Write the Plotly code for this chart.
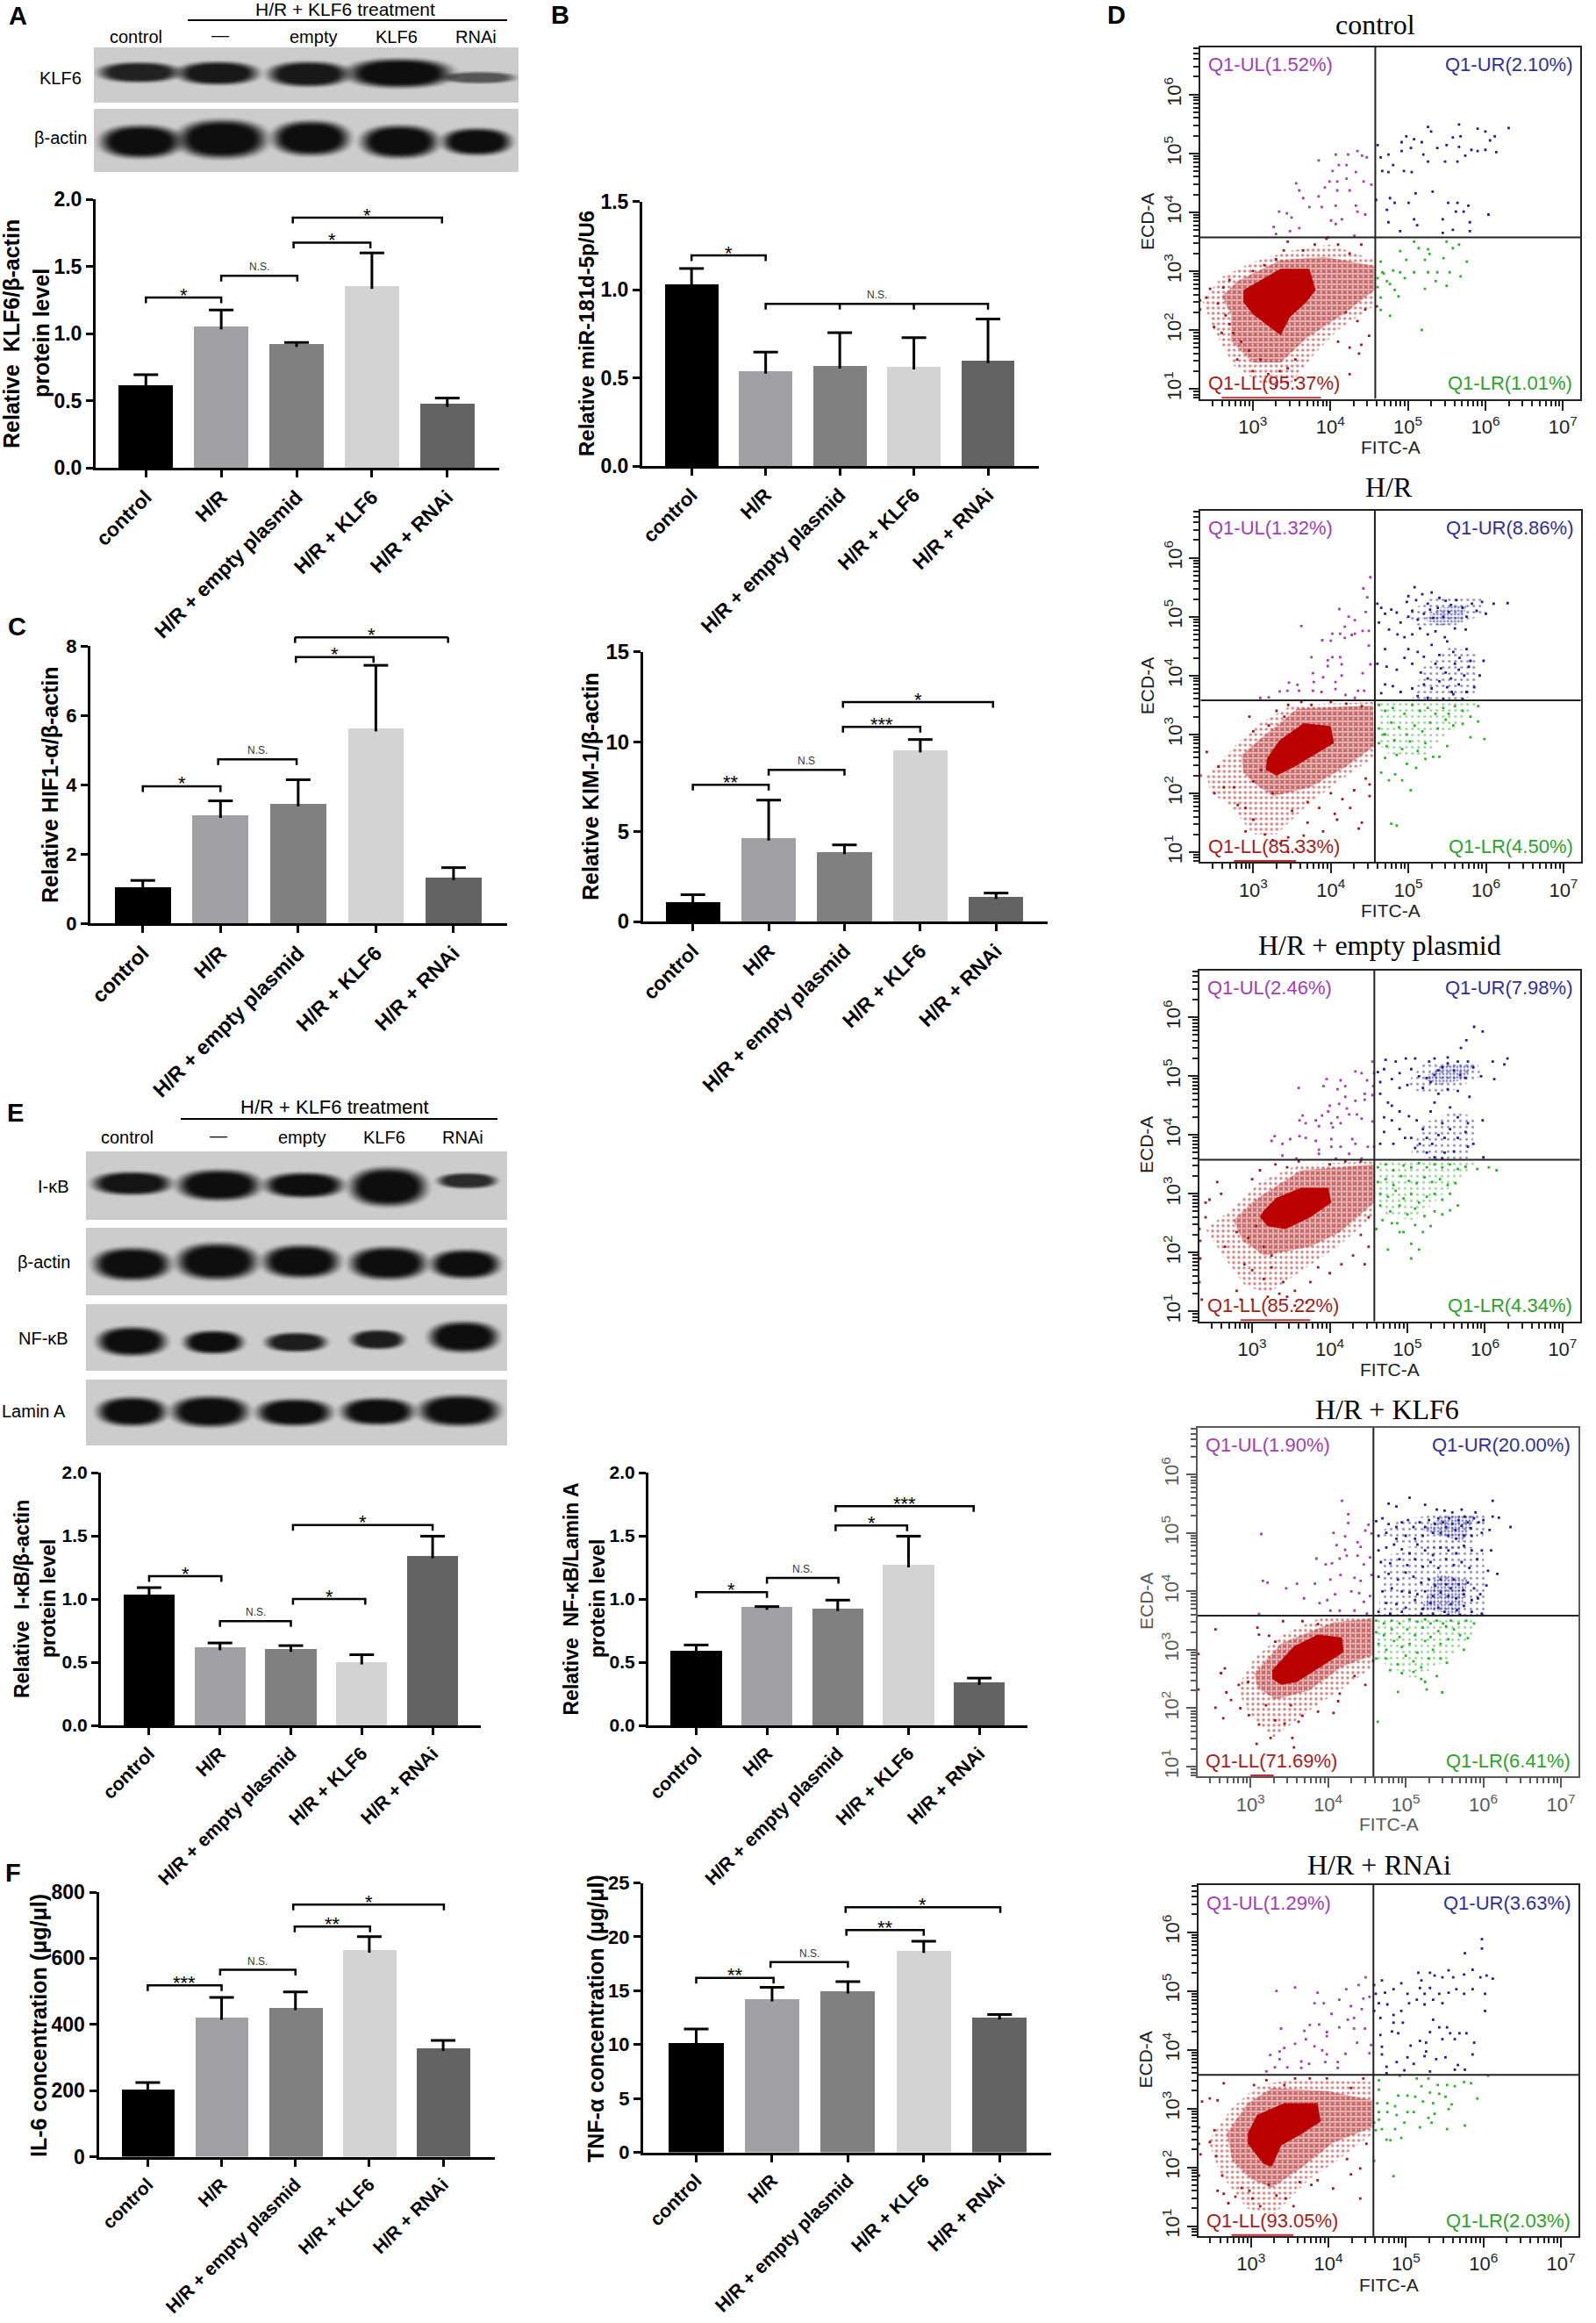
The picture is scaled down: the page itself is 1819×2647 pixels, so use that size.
import numpy as np
import plotly.graph_objects as go

W, H = 1819, 2647
SANS = "Liberation Sans"
SERIF = "Liberation Serif"

CATEGORIES = ["control", "H/R", "H/R + empty plasmid", "H/R + KLF6", "H/R + RNAi"]
BAR_COLORS = ["#000000", "#a0a0a5", "#808080", "#d3d3d3", "#636363"]

##### bar chart values, tops of the error bars, (from, to, height, label) brackets #####
A_VAL = [0.615, 1.05, 0.92, 1.352, 0.474]
A_TOP = [0.693, 1.175, 0.933, 1.6, 0.519]
A_TICKS = ["0.0", "0.5", "1.0", "1.5", "2.0"]
A_BR = [(0, 1, 1.268, "*"), (1, 2.01, 1.43, "N.S."), (1.96, 2.98, 1.676, "*"), (1.95, 3.93, 1.862, "*")]

B_VAL = [1.03, 0.539, 0.568, 0.562, 0.598]
B_TOP = [1.12, 0.646, 0.756, 0.728, 0.833]
B_TICKS = ["0.0", "0.5", "1.0", "1.5"]
B_BR = [(0, 1, 1.194, "*"), (1, 4, 0.92, "N.S.")]
B_INNER = [2, 3]

C1_VAL = [1.04, 3.115, 3.447, 5.61, 1.318]
C1_TOP = [1.235, 3.53, 4.14, 7.44, 1.604]
C1_TICKS = ["0", "2", "4", "6", "8"]
C1_BR = [(0, 1, 3.95, "*"), (0.97, 1.98, 4.73, "N.S."), (1.97, 2.97, 7.68, "*"), (1.96, 3.93, 8.25, "*")]

C2_VAL = [1.08, 4.65, 3.89, 9.55, 1.40]
C2_TOP = [1.49, 6.75, 4.26, 10.12, 1.58]
C2_TICKS = ["0", "5", "10", "15"]
C2_BR = [(0, 1, 7.6, "**"), (1, 2, 8.43, "N.S"), (1.98, 3, 10.83, "***"), (1.98, 3.96, 12.2, "*")]

E1_VAL = [1.032, 0.615, 0.603, 0.503, 1.343]
E1_TOP = [1.09, 0.652, 0.631, 0.559, 1.497]
E1_TICKS = ["0.0", "0.5", "1.0", "1.5", "2.0"]
E1_BR = [(0, 1.02, 1.18, "*"), (1, 2, 0.824, "N.S."), (2.03, 3.05, 1.0, "*"), (2.03, 4, 1.585, "*")]

E2_VAL = [0.592, 0.935, 0.926, 1.271, 0.341]
E2_TOP = [0.636, 0.94, 0.991, 1.497, 0.374]
E2_TICKS = ["0.0", "0.5", "1.0", "1.5", "2.0"]
E2_BR = [(0, 1, 1.053, "*"), (1, 2.01, 1.167, "N.S."), (1.97, 2.98, 1.582, "*"), (1.97, 3.92, 1.735, "***")]

F1_VAL = [204.5, 422, 451, 625, 328]
F1_TOP = [224.5, 482, 498, 665.5, 352]
F1_TICKS = ["0", "200", "400", "600", "800"]
F1_BR = [(0, 1, 518, "***"), (0.98, 2, 565, "N.S."), (1.99, 3.01, 696, "**"), (1.97, 4.01, 762, "*")]

F2_VAL = [10.21, 14.26, 14.98, 18.75, 12.56]
F2_TOP = [11.44, 15.32, 15.85, 19.6, 12.78]
F2_TICKS = ["0", "5", "10", "15", "20", "25"]
F2_BR = [(0, 1.02, 16.18, "**"), (0.98, 2, 17.66, "N.S."), (1.98, 3, 20.62, "**"), (1.97, 4.01, 22.74, "*")]

##### blot bands: centre x, half width, centre y, half height, darkness #####
BLOT_A1 = [(158, 42, 82, 10.5, .90), (248, 42, 83, 12, .95), (351, 42, 84, 13, .95), (455, 54, 83, 15, 1), (546, 38, 88, 6, .62)]
BLOT_A2 = [(160, 42, 161, 17, 1), (253, 46, 158, 20, 1), (354, 40, 157, 18, 1), (455, 40, 161, 17, 1), (543, 36, 161, 14, 1)]
BLOT_E1 = [(150, 41, 1348, 12, .97), (249, 43, 1350, 16, 1), (346, 41, 1350, 13, 1), (442, 40, 1352, 20, 1), (532, 31, 1345, 8, .85)]
BLOT_E2 = [(150, 40, 1440, 17, 1), (247, 42, 1437, 19, 1), (343, 40, 1437, 17, 1), (442, 40, 1439, 17, 1), (530, 36, 1440, 15, 1)]
BLOT_E3 = [(150, 36, 1528, 15, 1), (243, 31, 1529, 12, 1), (337, 32, 1529, 10, .92), (430, 28, 1526, 10, .92), (528, 36, 1523, 16, 1)]
BLOT_E4 = [(150, 36, 1608, 15, 1), (239, 40, 1608, 16, 1), (335, 39, 1609, 14, 1), (430, 38, 1608, 14, 1), (523, 42, 1607, 16, 1)]

##### flow cytometry events, log10 x 100 #####
CTRL_UL = [(385,488),(407,498),(423,498),(435,504),(447,493),(441,496),(421,480),(411,480),(403,470),(399,452),(409,452),(409,437),(393,442),(356,449),(360,437),(365,424),(385,427),(389,409),(373,409),(407,411),(433,411),(435,401),(445,396),(415,388),(401,386),(407,380),(334,401),(344,398),(350,391),(327,375),(360,373),(348,368),(330,363),(397,357),(431,360),(421,457),(433,468),(443,452),(453,447),(425,437)]
CTRL_UR = [(461,514),(465,493),(475,498),(467,470),(475,468),(481,480),(492,519),(498,529),(508,524),(492,504),(504,509),(518,519),(526,545),(530,537),(520,498),(526,486),(538,509),(550,514),(548,486),(558,527),(566,549),(566,511),(574,496),(568,529),(582,506),(590,542),(590,504),(600,537),(600,506),(612,529),(606,522),(614,502),(630,543),(564,486),(495,470),(505,468),(459,421),(477,424),(483,416),(501,416),(510,432),(532,435),(552,416),(564,416),(578,411),(562,401),(572,401),(604,396),(473,404),(508,388),(475,383),(512,378),(545,388),(580,383),(545,365),(558,370),(490,368),(580,368)]
CTRL_LR = [(465,316),(490,334),(508,350),(514,339),(526,337),(522,319),(528,329),(550,350),(558,339),(566,345),(576,316),(546,322),(498,319),(467,298),(469,296),(481,301),(490,298),(496,288),(508,298),(526,298),(538,298),(554,298),(568,291),(536,283),(550,275),(522,270),(488,257),(465,255),(461,273),(477,278),(465,234),(477,224),(518,200),(461,288),(473,283),(483,268)]
CTRL_LL = [(232,250),(232,235),(240,255),(245,270),(262,272),(270,285),(255,245),(265,225),(270,210),(250,205),(260,195),(275,195),(285,180),(295,165),(280,150),(300,130),(310,150),(320,125),(335,130),(345,135),(355,150),(330,105),(345,110),(355,115),(410,180),(425,170),(440,175),(437,160),(425,125),(450,190),(435,215),(420,230),(445,235),(460,240),(300,300),(315,310),(330,320),(340,335),(365,335),(380,345),(395,355),(410,345),(425,330),(440,345),(345,350)]
CTRL_CORE = [(2.88,2.68),(3.08,2.83),(3.36,3.04),(3.73,3.04),(3.81,2.68),(3.69,2.47),(3.48,2.22),(3.36,1.91),(3.2,2.07),(3.0,2.27),(2.88,2.47)]
CTRL_HALO = [(2.6,2.57),(2.8,2.83),(3.36,3.19),(3.93,3.24),(4.57,3.09),(4.57,2.68),(4.17,2.27),(3.69,1.86),(3.36,1.45),(3.0,1.45),(2.72,1.81),(2.72,2.27)]
CTRL_OUTER = [(2.35,2.5),(2.6,2.9),(3.0,3.15),(3.5,3.35),(4.0,3.45),(4.55,3.2),(4.55,2.4),(4.1,2.0),(3.8,1.6),(3.5,1.1),(3.1,1.1),(2.75,1.4),(2.5,2.0)]

HR_UL = [(451,567),(442,548),(447,533),(411,513),(445,508),(423,500),(431,494),(362,484),(418,483),(431,471),(427,469),(402,471),(412,471),(389,460),(400,459),(418,464),(449,476),(441,476),(449,451),(375,431),(396,426),(402,431),(412,431),(396,416),(414,419),(451,419),(377,404),(414,400),(441,404),(346,388),(378,389),(390,397),(406,389),(357,384),(359,374),(334,373),(344,374),(377,374),(388,372),(406,377),(435,374),(443,374),(309,362),(320,363),(419,367),(431,362)]
HR_UR = [(460,522),(465,515),(470,505),(478,512),(485,507),(462,490),(475,478),(490,490),(500,500),(498,525),(510,528),(505,510),(512,495),(520,505),(528,512),(532,498),(525,522),(538,515),(545,500),(552,508),(555,520),(562,528),(570,515),(575,500),(582,522),(588,510),(595,525),(600,505),(610,522),(628,523),(548,527),(540,532),(530,541),(518,538),(508,550),(500,535),(486,470),(495,465),(505,470),(515,480),(525,470),(535,475),(547,465),(560,480),(574,478),(500,445),(512,440),(520,432),(530,452),(540,435),(550,458),(558,440),(566,430),(575,445),(580,425),(597,425),(470,445),(460,420),(472,415),(485,410),(495,430),(505,420),(516,405),(525,395),(535,420),(542,412),(548,405),(555,395),(560,420),(565,410),(572,400),(578,415),(592,400),(520,385),(530,378),(540,390),(550,380),(556,372),(565,385),(575,372),(585,380),(470,385),(480,382),(465,370),(490,372),(505,378),(512,365),(525,362),(545,360),(558,368),(570,360)]
HR_LR = [(462,350),(470,340),(480,345),(495,335),(505,350),(515,340),(525,345),(535,335),(545,345),(552,335),(560,348),(570,340),(580,330),(590,348),(590,322),(462,310),(470,300),(478,320),(488,312),(498,300),(508,315),(518,305),(528,320),(538,310),(548,325),(558,315),(570,318),(462,285),(472,280),(482,290),(492,275),(502,288),(512,272),(522,285),(532,262),(540,262),(550,280),(580,295),(598,292),(470,260),(485,265),(498,250),(510,243),(465,235),(483,232),(492,222),(503,205),(475,222),(478,148),(485,145),(468,300),(522,258)]
HR_LL = [(232,230),(240,270),(250,200),(255,245),(262,210),(275,210),(280,180),(290,175),(300,220),(310,240),(325,200),(290,135),(300,155),(315,130),(325,120),(335,115),(345,125),(355,105),(365,128),(370,150),(345,100),(390,135),(408,155),(405,165),(425,175),(436,140),(440,150),(450,195),(445,225),(430,205),(415,190),(330,340),(345,350),(362,355),(400,355),(420,352),(440,348),(295,330),(300,305),(320,315),(340,330),(375,350),(450,215),(400,200),(385,175),(370,185),(350,170)]
HR_CORE = [(3.18,2.6),(3.34,2.9),(3.65,3.19),(4.0,3.14),(4.04,2.85),(3.81,2.67),(3.53,2.45),(3.3,2.3),(3.16,2.4)]
HR_HALO = [(2.85,2.65),(3.07,2.9),(3.57,3.44),(4.54,3.49),(4.56,2.8),(4.19,2.45),(3.73,2.1),(3.26,1.95),(3.03,2.15),(2.87,2.35)]
HR_OUTER = [(2.4,2.3),(2.8,2.85),(3.1,3.2),(3.5,3.5),(4.55,3.55),(4.55,2.6),(4.1,2.2),(3.7,1.8),(3.3,1.3),(3.0,1.3),(2.7,1.8),(2.45,2.0)]
HR_UR_TOP = [(4.95,5.0),(5.25,5.3),(5.95,5.35),(6.0,5.05),(5.6,4.85),(5.1,4.85)]
HR_UR_LOW = [(5.05,3.6),(5.2,4.15),(5.55,4.5),(5.9,4.35),(5.85,3.65),(5.5,3.55)]
HR_UR_DENSE = [(5.2,4.95),(5.4,5.15),(5.75,5.2),(5.7,4.9),(5.4,4.85)]
HR_LR_CLOUD = [(4.6,3.55),(5.9,3.55),(5.6,3.1),(5.2,2.6),(4.8,2.6),(4.6,2.85)]

EMP_UL = [(455,525),(433,508),(441,505),(457,505),(448,493),(456,483),(396,495),(392,483),(360,480),(414,493),(410,478),(420,483),(445,470),(455,468),(420,465),(433,458),(445,460),(400,450),(412,453),(422,445),(398,440),(410,430),(425,435),(435,435),(441,428),(455,423),(365,433),(361,425),(369,420),(382,425),(390,433),(386,415),(402,420),(414,420),(404,413),(329,398),(325,390),(339,385),(361,398),(369,395),(349,393),(382,390),(402,393),(402,380),(386,375),(429,393),(433,385),(414,380),(449,380),(457,380),(339,365),(357,360),(386,368),(408,360),(425,368),(441,360)]
EMP_UR = [(462,507),(470,512),(480,495),(490,505),(472,528),(485,525),(498,530),(510,530),(505,512),(515,500),(525,497),(535,502),(540,510),(530,490),(520,480),(500,485),(490,480),(465,490),(545,515),(552,522),(560,510),(568,502),(575,497),(585,515),(578,525),(565,525),(552,532),(535,530),(528,525),(595,500),(610,525),(625,520),(629,530),(576,561),(569,548),(586,584),(597,576),(612,495),(552,478),(540,470),(565,475),(580,465),(465,470),(475,455),(480,450),(490,440),(470,430),(480,425),(502,432),(512,425),(520,410),(530,440),(535,455),(545,420),(555,447),(565,430),(578,420),(597,425),(470,405),(490,410),(497,395),(505,395),(516,385),(525,395),(532,385),(540,400),(548,395),(555,410),(565,395),(575,405),(585,385),(465,385),(482,385),(510,378),(525,370),(535,362),(548,370),(560,372),(578,380),(598,362),(545,360)]
EMP_LR = [(462,345),(472,350),(482,340),(495,348),(505,345),(515,352),(525,345),(535,350),(545,345),(555,350),(565,342),(575,346),(590,342),(605,345),(615,340),(462,320),(472,325),(482,315),(492,330),(502,322),(512,318),(522,328),(532,320),(542,325),(552,315),(562,318),(465,300),(475,295),(485,305),(495,292),(505,300),(515,285),(525,295),(535,300),(545,290),(555,300),(565,280),(465,280),(478,270),(490,280),(500,265),(510,275),(522,262),(535,270),(545,265),(555,272),(468,255),(480,250),(490,235),(495,235),(510,247),(520,235),(530,245),(505,215),(515,205),(460,240),(475,205),(505,190),(487,250)]
EMP_LL = [(240,260),(232,240),(233,220),(233,190),(232,150),(235,120),(245,290),(255,320),(265,210),(280,235),(295,225),(305,245),(315,210),(325,195),(290,180),(300,170),(315,155),(325,175),(340,150),(355,135),(375,150),(385,175),(400,165),(415,180),(430,195),(440,230),(445,180),(285,120),(300,120),(320,125),(335,130),(345,125),(355,110),(370,115),(280,135),(300,325),(310,340),(330,350),(345,345),(360,355),(420,355),(440,355),(400,350),(450,210),(450,260),(240,285),(260,300)]
EMP_CORE = [(3.14,2.7),(3.31,2.93),(3.63,3.1),(3.98,3.1),(4.02,2.85),(3.75,2.6),(3.43,2.4),(3.2,2.45),(3.1,2.6)]
EMP_HALO = [(2.76,2.55),(3.04,2.9),(3.63,3.4),(4.57,3.5),(4.57,2.85),(4.14,2.35),(3.75,2.1),(3.16,1.95),(2.88,2.2)]
EMP_OUTER = [(2.4,2.4),(2.75,2.75),(3.1,3.2),(3.6,3.5),(4.55,3.55),(4.55,2.6),(4.1,2.1),(3.7,1.75),(3.2,1.3),(2.9,1.45),(2.65,1.9)]
EMP_UR_TOP = [(5.0,4.9),(5.2,5.2),(5.9,5.25),(5.95,5.0),(5.5,4.7),(5.1,4.75)]
EMP_UR_LOW = [(5.05,3.7),(5.2,4.2),(5.6,4.4),(5.9,4.3),(5.8,3.6),(5.4,3.55)]
EMP_UR_DENSE = [(5.2,4.95),(5.45,5.2),(5.85,5.2),(5.75,4.95),(5.4,4.85)]
EMP_LR_CLOUD = [(4.6,3.55),(5.9,3.55),(5.5,3.05),(5.1,2.55),(4.75,2.6),(4.6,2.85)]

KLF_UL = [(418,555),(426,532),(426,517),(452,514),(448,504),(456,499),(314,498),(407,500),(422,494),(438,484),(442,476),(411,479),(422,471),(424,461),(438,461),(454,458),(385,456),(397,446),(405,448),(415,456),(446,446),(416,428),(434,423),(442,418),(456,428),(383,413),(403,420),(316,418),(322,415),(360,413),(346,405),(409,395),(430,400),(440,397),(369,388),(389,380),(399,385),(446,382),(454,392),(403,367),(415,367),(434,367),(450,362),(311,361)]
KLF_UR = [(462,520),(470,525),(478,515),(488,510),(495,518),(503,522),(510,510),(518,518),(525,510),(530,522),(538,515),(542,525),(548,518),(552,510),(556,525),(560,515),(564,505),(568,522),(572,512),(576,528),(580,518),(584,508),(588,525),(594,518),(600,522),(612,528),(620,526),(635,510),(608,505),(598,500),(585,495),(575,495),(565,490),(555,495),(545,500),(535,500),(522,495),(512,490),(500,495),(488,490),(475,500),(465,495),(560,535),(550,538),(540,540),(525,548),(505,560),(478,550),(488,545),(590,535),(572,540),(612,555),(465,470),(475,475),(485,480),(495,472),(505,465),(515,480),(525,470),(535,462),(545,475),(555,470),(565,465),(575,478),(585,470),(598,470),(610,470),(468,450),(480,448),(492,455),(502,445),(512,455),(522,442),(532,450),(542,440),(552,455),(562,445),(572,450),(582,440),(592,455),(606,435),(618,430),(465,425),(478,430),(490,420),(500,432),(510,425),(520,415),(530,420),(538,410),(545,420),(552,412),(558,405),(562,420),(568,412),(574,402),(580,415),(588,405),(596,395),(604,410),(470,400),(482,405),(495,400),(505,398),(515,395),(525,400),(535,392),(545,398),(555,392),(565,388),(575,395),(585,385),(593,388),(475,380),(488,378),(500,372),(512,385),(522,370),(532,380),(542,372),(550,365),(558,378),(566,368),(575,375),(585,365),(598,362),(465,365),(480,362),(495,365),(520,362),(535,362),(555,360),(570,360)]
KLF_LR = [(462,350),(472,345),(482,350),(492,345),(505,352),(515,348),(525,352),(532,345),(540,350),(548,345),(558,350),(568,345),(578,350),(588,345),(462,330),(472,325),(482,335),(492,322),(502,335),(512,325),(522,338),(532,322),(542,332),(552,340),(562,335),(570,325),(580,320),(465,310),(475,300),(485,315),(495,305),(505,310),(515,295),(525,315),(535,300),(545,310),(555,318),(575,300),(462,285),(475,285),(490,275),(500,290),(510,280),(520,270),(530,285),(545,285),(553,278),(480,265),(495,260),(510,262),(520,250),(525,245),(527,232),(490,228),(540,255),(547,227),(464,177)]
KLF_LL = [(255,335),(262,260),(267,268),(269,227),(275,214),(255,201),(265,183),(287,200),(298,188),(311,172),(326,149),(308,139),(354,149),(356,133),(332,179),(344,174),(362,177),(367,187),(407,192),(413,212),(387,194),(352,205),(320,205),(297,245),(285,240),(309,338),(311,326),(324,324),(332,314),(342,349),(367,349),(387,344),(415,225),(448,240),(434,255),(458,281),(233,293),(233,232)]
KLF_CORE = [(3.28,2.65),(3.56,3.06),(3.87,3.26),(4.18,3.21),(4.2,2.96),(3.91,2.71),(3.6,2.45),(3.4,2.4),(3.28,2.5)]
KLF_HALO = [(3.05,2.6),(3.4,3.11),(4.07,3.47),(4.58,3.54),(4.58,2.91),(4.18,2.71),(3.75,2.3),(3.32,2.15),(3.09,2.35)]
KLF_OUTER = [(2.85,2.4),(3.05,2.85),(3.4,3.25),(3.9,3.55),(4.57,3.57),(4.57,2.7),(4.2,2.35),(3.8,2.0),(3.3,1.5),(3.05,1.8),(2.9,2.1)]
KLF_UR_TOP = [(4.65,5.0),(4.9,5.2),(5.5,5.35),(6.05,5.3),(6.0,4.95),(5.7,4.7),(5.0,4.75)]
KLF_UR_MID = [(4.65,3.6),(4.7,4.6),(5.6,4.85),(6.0,4.7),(6.05,3.6)]
KLF_UR_DENSE = [(5.2,5.05),(5.5,5.3),(5.9,5.3),(5.75,4.85),(5.45,4.95)]
KLF_UR_DENSE2 = [(5.2,3.7),(5.4,4.3),(5.8,4.2),(5.7,3.6)]
KLF_LR_CLOUD = [(4.6,3.55),(5.9,3.55),(5.85,3.2),(5.5,2.8),(5.1,2.5),(4.75,2.75),(4.6,2.85)]

RNA_UL = [(333,500),(357,506),(386,497),(382,479),(423,503),(439,510),(448,523),(414,485),(429,474),(445,487),(453,490),(443,469),(394,479),(404,461),(425,451),(433,454),(388,443),(376,442),(339,436),(369,432),(398,430),(414,438),(433,436),(447,436),(371,418),(382,406),(398,423),(437,412),(455,408),(357,410),(343,403),(337,397),(325,391),(392,399),(398,392),(422,393),(453,394),(337,384),(365,380),(375,376),(396,379),(412,379),(331,370),(347,370),(320,363),(365,369),(412,369)]
RNA_UR = [(459,510),(469,518),(461,495),(473,497),(484,503),(494,513),(502,495),(516,531),(520,518),(531,531),(537,526),(547,523),(555,535),(561,523),(575,528),(586,536),(596,523),(604,526),(612,521),(576,564),(598,588),(598,572),(524,495),(518,505),(531,505),(543,495),(547,479),(555,497),(565,503),(575,495),(586,503),(602,495),(602,466),(465,479),(476,477),(484,459),(494,466),(504,479),(514,485),(524,477),(535,485),(459,466),(467,454),(484,446),(496,446),(535,451),(543,438),(553,438),(557,428),(569,428),(578,428),(467,425),(482,431),(490,428),(531,430),(547,418),(563,418),(588,412),(469,405),(506,407),(518,415),(526,412),(526,397),(469,392),(502,387),(524,389),(551,387),(586,392),(488,379),(510,376),(539,384),(567,374),(475,371),(498,365),(531,363),(563,366),(576,366),(475,360)]
RNA_LR = [(465,348),(492,356),(514,351),(520,338),(529,351),(541,340),(553,340),(563,338),(575,345),(584,343),(606,356),(465,332),(490,322),(502,322),(512,320),(522,312),(531,327),(535,309),(543,325),(551,320),(559,307),(592,317),(463,309),(476,309),(486,304),(465,294),(476,294),(502,294),(510,294),(537,291),(555,299),(465,281),(459,276),(488,289),(498,276),(529,284),(533,276),(553,265),(576,271),(461,263),(469,265),(486,265),(518,268),(475,247),(480,246),(494,250),(459,211),(484,185)]
RNA_LL = [(237,312),(247,317),(265,343),(257,314),(253,263),(247,243),(233,268),(233,240),(235,222),(233,186),(255,219),(257,160),(265,155),(271,139),(280,150),(263,186),(288,165),(298,160),(302,147),(312,134),(323,170),(333,152),(345,147),(355,134),(363,175),(378,170),(406,164),(441,147),(386,178),(429,188),(441,198),(424,214),(449,240),(304,340),(320,348),(343,340),(357,351),(376,351),(398,351),(429,335),(445,351)]
RNA_CORE = [(2.96,2.58),(3.08,2.89),(3.43,3.09),(3.86,3.09),(3.9,2.78),(3.67,2.58),(3.39,2.37),(3.27,2.01),(3.16,2.06),(2.96,2.4)]
RNA_HALO = [(2.69,2.58),(2.96,3.09),(3.27,3.35),(3.98,3.3),(4.57,3.14),(4.57,2.68),(4.06,2.42),(3.67,2.01),(3.27,1.65),(3.0,1.8),(2.76,2.11)]
RNA_OUTER = [(2.45,2.45),(2.75,3.0),(3.1,3.4),(3.6,3.5),(4.55,3.45),(4.55,2.55),(4.1,2.1),(3.75,1.8),(3.3,1.2),(2.95,1.3),(2.6,1.9)]

FLOW_TITLES = ["control", "H/R", "H/R + empty plasmid", "H/R + KLF6", "H/R + RNAi"]
UL_PCT = ["1.52", "1.32", "2.46", "1.90", "1.29"]
UR_PCT = ["2.10", "8.86", "7.98", "20.00", "3.63"]
LL_PCT = ["95.37", "85.33", "85.22", "71.69", "93.05"]
LR_PCT = ["1.01", "4.50", "4.34", "6.41", "2.03"]
GATE_X = [4.58, 4.568, 4.574, 4.584, 4.58]
GATE_Y = [3.574, 3.577, 3.58, 3.584, 3.573]
PILE_UP = [(2.6, 3.88), (2.75, 3.55), (2.85, 3.75), (3.0, 3.3), (2.75, 3.55)]

fig = go.Figure()
layout = {}
notes = []
rules = []
n_axes = 0


def fx(x):
    return x / W


def fy(y):
    return 1 - y / H


def note(x, y, text, size, weight=400, color="#000000", family=SANS, angle=0, anchor="center"):
    notes.append(dict(x=fx(x), y=fy(y), xref="paper", yref="paper", text=text, showarrow=False,
                      textangle=angle, xanchor=anchor, yanchor="middle",
                      font=dict(family=family, size=size, color=color, weight=weight)))


def new_axes(box):
    global n_axes
    n_axes += 1
    l, r, t, b = box
    layout[f"xaxis{n_axes}"] = dict(domain=[fx(l), fx(r)], anchor=f"y{n_axes}", automargin=False)
    layout[f"yaxis{n_axes}"] = dict(domain=[fy(b), fy(t)], anchor=f"x{n_axes}", automargin=False)
    return n_axes


def blot(box, bands):
    n = new_axes(box)
    l, r, t, b = box
    xs = np.arange(l, r + 2, 2.0)
    ys = np.arange(t, b + 2, 2.0)
    gx, gy = np.meshgrid(xs, ys)
    z = np.full(gx.shape, 0.80)
    for cx, hw, cy, hh, dark in bands:
        d = (np.abs((gx - cx) / hw) ** 2.3 + np.abs((gy - cy) / hh) ** 2.3) ** (1 / 2.3)
        m = np.clip((1.32 - d) / 0.6, 0, 1)
        m = m * m * (3 - 2 * m)
        z = z * (1 - 0.93 * dark * m)
    fig.add_trace(go.Heatmap(x=xs, y=ys, z=z, zmin=0, zmax=1, zsmooth="best", showscale=False, hoverinfo="skip",
                             colorscale=[[0, "#000000"], [1, "#ffffff"]], xaxis=f"x{n}", yaxis=f"y{n}"))
    layout[f"xaxis{n}"].update(visible=False, range=[l, r])
    layout[f"yaxis{n}"].update(visible=False, range=[b, t])


def bar_chart(box, xr, vals, tops, ticks, brackets, tick_size, cat_size, inner=()):
    n = new_axes(box)
    l, r, t, b = box
    ymax = float(ticks[-1])
    drop = ymax / (b - t) * 6.5
    cap = 14 * (xr[1] - xr[0]) / (r - l)
    stem = ymax / (b - t) * 3
    fig.add_trace(go.Bar(x=list(range(5)), y=vals, width=0.72, marker=dict(color=BAR_COLORS, line=dict(width=0)),
                         xaxis=f"x{n}", yaxis=f"y{n}"))
    # error bars as plain lines, only the upper whisker is drawn in the figure
    for i, (v, top) in enumerate(zip(vals, tops)):
        fig.add_trace(go.Scatter(x=[i, i, None, i - cap, i + cap], y=[v - stem, top, None, top, top], mode="lines",
                                 line=dict(color="#000000", width=3), xaxis=f"x{n}", yaxis=f"y{n}"))
    for x0, x1, y, lab in brackets:
        small = lab.startswith("N")
        star = dict(x=(x0 + x1) / 2, xref=f"x{n}", text=lab, showarrow=False, yanchor="middle", yshift=10 if small else 3,
                    font=dict(family=SANS, size=12 if small else 22, color="#333333" if small else "#000000"))
        if y > ymax:
            # above the top of the axis: plotly drops it on the y axis, so place it on the page
            page_y = fy(b - y / ymax * (b - t))
            page_low = fy(b - (y - drop) / ymax * (b - t))
            pen = dict(color="#000000", width=2.5)
            rules.append(dict(type="line", xref=f"x{n}", yref="paper", x0=x0, x1=x1, y0=page_y, y1=page_y, line=pen))
            rules.append(dict(type="line", xref=f"x{n}", yref="paper", x0=x0, x1=x0, y0=page_low, y1=page_y, line=pen))
            rules.append(dict(type="line", xref=f"x{n}", yref="paper", x0=x1, x1=x1, y0=page_low, y1=page_y, line=pen))
            notes.append(dict(y=page_y, yref="paper", **star))
        else:
            fig.add_trace(go.Scatter(x=[x0, x0, x1, x1], y=[y - drop, y, y, y - drop], mode="lines", cliponaxis=False,
                                     line=dict(color="#000000", width=2.5), xaxis=f"x{n}", yaxis=f"y{n}"))
            notes.append(dict(y=y, yref=f"y{n}", **star))
    for x in inner:
        y = brackets[-1][2]
        fig.add_trace(go.Scatter(x=[x, x], y=[y - drop, y], mode="lines", cliponaxis=False,
                                 line=dict(color="#000000", width=2.5), xaxis=f"x{n}", yaxis=f"y{n}"))
    axis_style = dict(showgrid=False, zeroline=False, showline=True, linecolor="#000000", linewidth=3,
                      ticks="outside", ticklen=8, tickwidth=3, tickcolor="#000000")
    layout[f"xaxis{n}"].update(range=xr, tickmode="array", tickvals=list(range(5)), ticktext=CATEGORIES, tickangle=-45,
                               tickfont=dict(family=SANS, size=cat_size, color="#000000", weight=700), **axis_style)
    layout[f"yaxis{n}"].update(range=[0, ymax], tickmode="array", tickvals=[float(v) for v in ticks], ticktext=ticks,
                               tickfont=dict(family=SANS, size=tick_size, color="#000000", weight=700), **axis_style)


def dots(n, pts, color):
    fig.add_trace(go.Scatter(x=[10 ** (p[0] / 100) for p in pts], y=[10 ** (p[1] / 100) for p in pts], mode="markers",
                             marker=dict(symbol="square", size=2.8, color=color, line=dict(width=0)),
                             xaxis=f"x{n}", yaxis=f"y{n}"))


def blob(n, pts, color, dot_size=None, solidity=None):
    xs = [10 ** p[0] for p in pts] + [10 ** pts[0][0]]
    ys = [10 ** p[1] for p in pts] + [10 ** pts[0][1]]
    kw = dict(fillcolor=color)
    if dot_size:
        kw = dict(fillcolor="rgba(0,0,0,0)",
                  fillpattern=dict(shape=".", size=dot_size, solidity=solidity, fgcolor=color, bgcolor="rgba(0,0,0,0)"))
    fig.add_trace(go.Scatter(x=xs, y=ys, mode="lines", fill="toself", line=dict(width=0), xaxis=f"x{n}", yaxis=f"y{n}", **kw))


def flow_panel(i, box, title_pos, fitc_pos, ecd_pos, ul, ur, lr, ll, core, halo, outer, ur_clouds, ur_dense, lr_cloud, ink):
    n = new_axes(box)
    l, r, t, b = box
    blob(n, outer, "#a00c0c", 6, 0.28)
    blob(n, halo, "#a80404", 3, 0.72)
    for cloud in ur_clouds:
        blob(n, cloud, "#20208c", 7, 0.16)
    for cloud in ur_dense:
        blob(n, cloud, "#10108c", 4, 0.42)
    if lr_cloud:
        blob(n, lr_cloud, "#30b030", 7, 0.16)
    dots(n, ll, "#a01818")
    dots(n, ul, "#a040b0")
    dots(n, ur, "#20208c")
    dots(n, lr, "#30b030")
    blob(n, core, "#bb0000")
    fig.add_trace(go.Scatter(x=[10 ** PILE_UP[i][0], 10 ** PILE_UP[i][1]], y=[10 ** 0.85, 10 ** 0.85], mode="lines",
                             line=dict(color="#c03030", width=2), xaxis=f"x{n}", yaxis=f"y{n}"))
    gate = dict(color="#222222", width=2)
    fig.add_trace(go.Scatter(x=[10 ** GATE_X[i]] * 2, y=[10 ** 0.83, 10 ** 6.8], mode="lines", line=gate,
                             xaxis=f"x{n}", yaxis=f"y{n}"))
    fig.add_trace(go.Scatter(x=[10 ** 2.32, 10 ** 7.225], y=[10 ** GATE_Y[i]] * 2, mode="lines", line=gate,
                             xaxis=f"x{n}", yaxis=f"y{n}"))
    minor_vals = [m * 10 ** k for k in range(0, 8) for m in range(2, 10)]
    axis_style = dict(type="log", showgrid=False, zeroline=False, showline=True, mirror=True, linecolor=ink, linewidth=2,
                      ticks="outside", ticklen=11, tickwidth=2, tickcolor=ink,
                      minor=dict(ticks="outside", ticklen=6, tickwidth=1.5, tickcolor=ink, tickmode="array",
                                 tickvals=minor_vals, showgrid=False))
    layout[f"xaxis{n}"].update(range=[2.32, 7.225], tickmode="array", tickvals=[10 ** k for k in range(3, 8)],
                               ticktext=[f"10<sup>{k}</sup>" for k in range(3, 8)],
                               tickfont=dict(family=SANS, size=22, color=ink), **axis_style)
    layout[f"yaxis{n}"].update(range=[0.83, 6.8], tickmode="array", tickvals=[10 ** k for k in range(1, 7)], tickangle=-90,
                               ticktext=[f"10<sup>{k}</sup>" for k in range(1, 7)],
                               tickfont=dict(family=SANS, size=22, color=ink), **axis_style)
    note(title_pos[0], title_pos[1], FLOW_TITLES[i], 32, family=SERIF)
    note(fitc_pos[0], fitc_pos[1], "FITC-A", 21, color=ink)
    note(ecd_pos[0], ecd_pos[1], "ECD-A", 21, color=ink, angle=-90)
    left, right = l + 7, r - 7
    top, bottom = t + 20, b - 18
    note(left, top, f"Q1-UL({UL_PCT[i]}%)", 22, color="#a040b0", anchor="left")
    note(right, top, f"Q1-UR({UR_PCT[i]}%)", 22, color="#303090", anchor="right")
    note(left, bottom, f"Q1-LL({LL_PCT[i]}%)", 22, color="#a02020", anchor="left")
    note(right, bottom, f"Q1-LR({LR_PCT[i]}%)", 22, color="#30a030", anchor="right")


##### western blots #####
blot((107, 591, 54, 117.5), BLOT_A1)
blot((107, 591, 124, 196), BLOT_A2)
blot((98, 578, 1312, 1390), BLOT_E1)
blot((98, 578, 1399, 1476), BLOT_E2)
blot((98, 578, 1486, 1562), BLOT_E3)
blot((98, 578, 1572, 1647), BLOT_E4)

##### bar charts #####
bar_chart((109, 569, 227, 533), [-0.667, 4.69], A_VAL, A_TOP, A_TICKS, A_BR, 23, 23)
bar_chart((732, 1183.5, 229.6, 531), [-0.665, 4.68], B_VAL, B_TOP, B_TICKS, B_BR, 23, 22.5, B_INNER)
bar_chart((103, 578, 736, 1052), [-0.675, 4.69], C1_VAL, C1_TOP, C1_TICKS, C1_BR, 22, 23.5)
bar_chart((733, 1194, 742.7, 1050), [-0.656, 4.68], C2_VAL, C2_TOP, C2_TICKS, C2_BR, 24, 23)
bar_chart((115, 548, 1678, 1966), [-0.68, 4.68], E1_VAL, E1_TOP, E1_TICKS, E1_BR, 21, 21.5)
bar_chart((739, 1171, 1678, 1966), [-0.675, 4.68], E2_VAL, E2_TOP, E2_TICKS, E2_BR, 21, 21.5)
bar_chart((112.5, 564, 2156, 2457.6), [-0.664, 4.7], F1_VAL, F1_TOP, F1_TICKS, F1_BR, 23, 21)
bar_chart((733, 1198, 2145.6, 2452.5), [-0.70, 4.68], F2_VAL, F2_TOP, F2_TICKS, F2_BR, 22, 21.5)

##### dot plots #####
flow_panel(0, (1367.7, 1801.2, 54, 454.5), (1567, 27.5), (1585, 509), (1307, 253), CTRL_UL, CTRL_UR, CTRL_LR, CTRL_LL, CTRL_CORE, CTRL_HALO, CTRL_OUTER, [], [], None, "#222222")
flow_panel(1, (1368.3, 1801.8, 582, 982.3), (1583, 555), (1585, 1037.7), (1307.5, 781.7), HR_UL, HR_UR, HR_LR, HR_LL, HR_CORE, HR_HALO, HR_OUTER, [HR_UR_TOP, HR_UR_LOW], [HR_UR_DENSE], HR_LR_CLOUD, "#222222")
flow_panel(2, (1367, 1800.8, 1105.7, 1505.7), (1572, 1076.7), (1584, 1560), (1306, 1305), EMP_UL, EMP_UR, EMP_LR, EMP_LL, EMP_CORE, EMP_HALO, EMP_OUTER, [EMP_UR_TOP, EMP_UR_LOW], [EMP_UR_DENSE], EMP_LR_CLOUD, "#222222")
flow_panel(3, (1365, 1799, 1626.8, 2024.4), (1581, 1605.5), (1582.5, 2078.4), (1306, 1825), KLF_UL, KLF_UR, KLF_LR, KLF_LL, KLF_CORE, KLF_HALO, KLF_OUTER, [KLF_UR_TOP, KLF_UR_MID], [KLF_UR_DENSE, KLF_UR_DENSE2], KLF_LR_CLOUD, "#5a5a5a")
flow_panel(4, (1365.6, 1799, 2148, 2548), (1571.5, 2125), (1582.5, 2603), (1306, 2347.6), RNA_UL, RNA_UR, RNA_LR, RNA_LL, RNA_CORE, RNA_HALO, RNA_OUTER, [], [], None, "#222222")

##### panel letters #####
for letter, x, y in [("A", 20, 18), ("B", 638, 17), ("C", 19, 714), ("D", 1272, 17), ("E", 17, 1268), ("F", 15, 2134)]:
    note(x, y, letter, 29, weight=700)

##### blot labels #####
note(393, 11, "H/R + KLF6 treatment", 21)
note(155, 42, "control", 20)
note(251, 40, "—", 20)
note(357, 42, "empty", 20)
note(451.5, 42, "KLF6", 20)
note(542, 42, "RNAi", 20)
note(95, 88.6, "KLF6", 20, anchor="right")
note(101, 157, "β-actin", 20, anchor="right")
note(381, 1261, "H/R + KLF6 treatment", 22)
note(145, 1296, "control", 20)
note(249, 1294, "—", 20)
note(344, 1296, "empty", 20)
note(438, 1296, "KLF6", 20)
note(527, 1296, "RNAi", 20)
note(81, 1352, "I-κB", 20, anchor="right")
note(82, 1438, "β-actin", 20, anchor="right")
note(80, 1525, "NF-κB", 20, anchor="right")
note(77, 1608, "Lamin A", 20, anchor="right")

##### y titles #####
note(13, 381, "Relative  KLF6/β-actin", 25, weight=700, angle=-90)
note(47, 380, "protein level", 25, weight=700, angle=-90)
note(668, 380, "Relative miR-181d-5p/U6", 24, weight=700, angle=-90)
note(57, 894, "Relative HIF1-α/β-actin", 25, weight=700, angle=-90)
note(673, 896, "Relative KIM-1/β-actin", 25, weight=700, angle=-90)
note(25, 1822, "Relative  I-κB/β-actin", 23, weight=700, angle=-90)
note(55, 1822, "protein level", 23, weight=700, angle=-90)
note(650.5, 1822, "Relative  NF-κB/Lamin A", 23, weight=700, angle=-90)
note(681, 1822, "protein level", 23, weight=700, angle=-90)
note(44, 2308, "IL-6 concentration (μg/μl)", 25, weight=700, angle=-90)
note(679, 2300, "TNF-α concentration (μg/μl)", 25, weight=700, angle=-90)

##### treatment rules above the blots #####
rules.append(dict(type="line", xref="paper", yref="paper", x0=fx(214), x1=fx(578), y0=fy(23), y1=fy(23), line=dict(color="#000000", width=2)))
rules.append(dict(type="line", xref="paper", yref="paper", x0=fx(206), x1=fx(567), y0=fy(1275), y1=fy(1275), line=dict(color="#000000", width=2)))

fig.update_layout(width=W, height=H, margin=dict(l=0, r=0, t=0, b=0), autosize=False, showlegend=False, hovermode=False,
                  paper_bgcolor="#ffffff", plot_bgcolor="#ffffff", bargap=0, annotations=notes, shapes=rules, **layout)

fig.write_html("out.html", config=dict(displayModeBar=False), post_script="document.body.style.margin='0';")
